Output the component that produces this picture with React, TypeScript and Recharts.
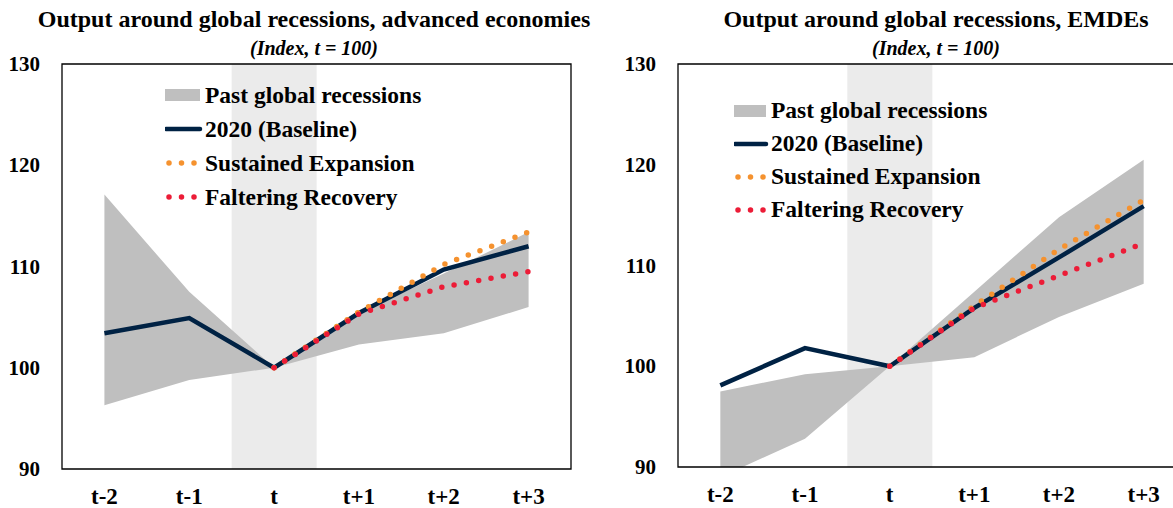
import React from "react";
import { ComposedChart, Area, Line, Bar, XAxis, YAxis, ReferenceArea } from "recharts";

const periods = ["t-2", "t-1", "t", "t+1", "t+2", "t+3"];
const recessionYear = [null, null, 130, null, null, null];
const yTicks = [90, 100, 110, 120, 130];

// advanced economies
const aePastLow = [96.3, 98.8, 100, 102.3, 103.4, 106.0];
const aePastHigh = [117.1, 107.5, 100, 105.4, 109.3, 113.4];
const aeBaseline = [103.4, 104.9, 100, 105.4, 109.7, 112.0];
const aeSustained = [null, null, 100, 105.5, 110.2, 113.4];
const aeFaltering = [null, null, 100, 105.3, 108.0, 109.5];

// EMDEs
const emPastLow = [89.0, 92.8, 100, 100.9, 104.9, 108.2];
const emPastHigh = [97.5, 99.2, 100, 107.4, 114.8, 120.5];
const emBaseline = [98.1, 101.8, 100, 105.8, 110.8, 115.9];
const emSustained = [null, null, 100, 106.0, 111.6, 116.5];
const emFaltering = [null, null, 100, 105.8, 109.0, 112.2];

const FONT = "'Liberation Serif', 'Times New Roman', serif";
const GRAY = "#BFBFBF";
const BAND = "#EBEBEB";
const NAVY = "#002244";
const ORANGE = "#F5922F";
const RED = "#EC1C37";

const legendItems = [
  { label: "Past global recessions", kind: "area", color: GRAY },
  { label: "2020 (Baseline)", kind: "line", color: NAVY },
  { label: "Sustained Expansion", kind: "dot", color: ORANGE },
  { label: "Faltering Recovery", kind: "dot", color: RED },
];

function buildRows(low: number[], high: number[], base: number[], sus: (number | null)[], fal: (number | null)[]) {
  return periods.map((p, i) => ({
    period: p,
    band: recessionYear[i],
    past: [low[i], high[i]],
    baseline: base[i],
    sustained: sus[i],
    faltering: fal[i],
  }));
}

const XTick = ({ x, y, payload }: any) => (
  <text x={x} y={y + 27} textAnchor="middle" dominantBaseline="central" fontFamily={FONT} fontWeight="bold" fontSize={23} fill="#000">
    {payload.value}
  </text>
);

const YTick = ({ x, y, payload }: any) => (
  <text x={x - 22} y={y} textAnchor="end" dominantBaseline="central" fontFamily={FONT} fontWeight="bold" fontSize={21} fill="#000">
    {payload.value}
  </text>
);

function LegendBox({ left, top, rowGap, textX }: { left: number; top: number; rowGap: number; textX: number }) {
  return (
    <div style={{ position: "absolute", left, top, fontFamily: FONT, fontWeight: "bold", fontSize: 23.5, color: "#000", pointerEvents: "none" }}>
      {legendItems.map((it) => (
        <div key={it.label} style={{ display: "flex", alignItems: "center", height: rowGap, whiteSpace: "nowrap" }}>
          <svg width={textX} height={14} style={{ flex: "none" }}>
            {it.kind === "area" && <rect x={0} y={1} width={textX - 5} height={12} fill={it.color} />}
            {it.kind === "line" && <line x1={1} y1={7} x2={textX - 5} y2={7} stroke={it.color} strokeWidth={4.5} strokeLinecap="round" />}
            {it.kind === "dot" && (
              <line x1={4} y1={7} x2={textX - 4} y2={7} stroke={it.color} strokeWidth={5.5} strokeLinecap="round" strokeDasharray="0 12.5" />
            )}
          </svg>
          <span>{it.label}</span>
        </div>
      ))}
    </div>
  );
}

interface PanelProps {
  title: string;
  rows: ReturnType<typeof buildRows>;
  left: number;
  width: number;
  yAxisWidth: number;
  rightMargin: number;
  bottom: number;
  titleX: number;
  legendLeft: number;
  legendTop: number;
  rowGap: number;
  textX: number;
}

function Panel({ title, rows, left, width, yAxisWidth, rightMargin, bottom, titleX, legendLeft, legendTop, rowGap, textX }: PanelProps) {
  return (
    <div style={{ position: "absolute", left, top: 0, width, height: 508 }}>
      <ComposedChart
        width={width}
        height={508}
        data={rows}
        margin={{ top: 64, right: rightMargin, bottom: 508 - bottom - 39, left: 0 }}
        barCategoryGap={0}
        barGap={0}
      >
        <XAxis dataKey="period" axisLine={false} tickLine={false} tickSize={0} tickMargin={0} height={39} tick={<XTick />} interval={0} />
        <YAxis
          domain={[90, 130]}
          ticks={yTicks}
          allowDataOverflow
          axisLine={false}
          tickLine={false}
          tickSize={0}
          tickMargin={0}
          width={yAxisWidth}
          tick={<YTick />}
        />
        <Bar dataKey="band" fill={BAND} isAnimationActive={false} zIndex={50} />
        <Area dataKey="past" stroke="none" fill={GRAY} fillOpacity={1} isAnimationActive={false} zIndex={100} />
        <ReferenceArea x1="t-2" x2="t+3" y1={90} y2={130} fill="none" stroke="#000" strokeWidth={1.3} ifOverflow="visible" />
        <Line dataKey="baseline" stroke={NAVY} strokeWidth={4.5} dot={false} isAnimationActive={false} />
        <Line dataKey="sustained" stroke={ORANGE} strokeWidth={5.5} strokeLinecap="round" strokeDasharray="0 12.5" dot={false} isAnimationActive={false} />
        <Line dataKey="faltering" stroke={RED} strokeWidth={5.5} strokeLinecap="round" strokeDasharray="0 12.5" dot={false} isAnimationActive={false} />
      </ComposedChart>
      <div style={{ position: "absolute", left: titleX - left - 400, width: 800, top: 5, textAlign: "center", fontFamily: FONT, fontWeight: "bold", fontSize: 24, lineHeight: "28px" }}>
        {title}
      </div>
      <div style={{ position: "absolute", left: titleX - left - 400, width: 800, top: 37, textAlign: "center", fontFamily: FONT, fontWeight: "bold", fontStyle: "italic", fontSize: 20, lineHeight: "22px" }}>
        (Index, t = 100)
      </div>
      <LegendBox left={legendLeft - left} top={legendTop} rowGap={rowGap} textX={textX} />
    </div>
  );
}

export default function App() {
  const aeRows = buildRows(aePastLow, aePastHigh, aeBaseline, aeSustained, aeFaltering);
  const emRows = buildRows(emPastLow, emPastHigh, emBaseline, emSustained, emFaltering);
  return (
    <div style={{ position: "absolute", left: 0, top: 0, width: 1173, height: 508, overflow: "hidden", background: "#fff" }}>
      <Panel
        title="Output around global recessions, advanced economies"
        rows={aeRows}
        left={0}
        width={600}
        yAxisWidth={62}
        rightMargin={29}
        bottom={469}
        titleX={314}
        legendLeft={165}
        legendTop={78}
        rowGap={34}
        textX={40}
      />
      <Panel
        title="Output around global recessions, EMDEs"
        rows={emRows}
        left={600}
        width={600}
        yAxisWidth={78}
        rightMargin={14}
        bottom={467}
        titleX={936}
        legendLeft={734}
        legendTop={94}
        rowGap={33}
        textX={37}
      />
    </div>
  );
}
